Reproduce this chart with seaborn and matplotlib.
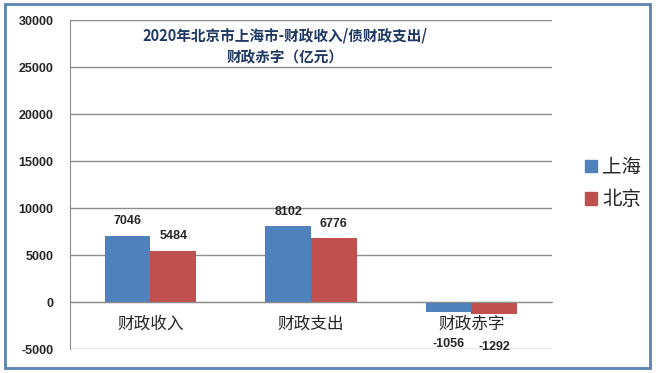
import numpy as np
import pandas as pd
import matplotlib
matplotlib.use("Agg")
import matplotlib.pyplot as plt
import matplotlib.patches as mpatches
import seaborn as sns

# data
categories = ['财政收入', '财政支出', '财政赤字']
shanghai = [7046, 8102, -1056]
beijing = [5484, 6776, -1292]
cities = ['上海', '北京']
y_ticks = [-5000, 0, 5000, 10000, 15000, 20000, 25000, 30000]

df = pd.DataFrame({
    'cat': categories * 2,
    'city': [cities[0]] * 3 + [cities[1]] * 3,
    'value': shanghai + beijing,
})

sns.set_style('white')
plt.rcParams['font.family'] = ['Noto Sans CJK SC', 'DejaVu Sans']

fig = plt.figure(figsize=(6.56, 3.73), dpi=100)
ax = fig.add_axes([0.107, 0.0643, 0.734, 0.8817])

palette = {'上海': '#4F81BD', '北京': '#C0504D'}
sns.barplot(data=df, x='cat', y='value', hue='city', palette=palette,
            width=0.57, saturation=1, ax=ax, legend=False, order=categories,
            linewidth=0, edgecolor='none')

ax.set_ylim(-5000, 30000)
ax.set_xlim(-0.5, 2.5)
ax.set_yticks(y_ticks)
ax.set_yticklabels([str(t) for t in y_ticks], fontsize=9, fontweight='bold',
                   family=['Liberation Sans', 'DejaVu Sans'])
ax.yaxis.grid(True, color='#8C8C8C', lw=1)
ax.set_axisbelow(True)
ax.tick_params(axis='y', length=4, color='#8C8C8C', pad=8)
ax.set_xlabel('')
ax.set_ylabel('')

# x axis at zero
for s in ['top', 'right']:
    ax.spines[s].set_visible(False)
ax.spines['left'].set_color('#8C8C8C')
ax.spines['bottom'].set_position(('data', 0))
ax.spines['bottom'].set_color('#8C8C8C')
ax.set_xticks([0, 1, 2])
ax.set_xticklabels(categories, fontsize=12)
ax.set_xticks([-0.5, 0.5, 1.5, 2.5], minor=True)
ax.tick_params(axis='x', which='major', length=0, pad=10)
ax.tick_params(axis='x', which='minor', length=4, color='#8C8C8C')

# value labels
for cont in ax.containers:
    for p in cont:
        v = p.get_height()
        x = p.get_x() + p.get_width() / 2
        if v >= 0:
            ax.annotate(f'{int(round(v))}', (x, v), xytext=(0, 6), textcoords='offset points',
                        ha='center', va='bottom', fontsize=9, fontweight='bold',
                        family=['Liberation Sans', 'DejaVu Sans'])
        else:
            ax.annotate(f'{int(round(v))}', (x, v), xytext=(0, -19), textcoords='offset points',
                        ha='center', va='top', fontsize=9, fontweight='bold',
                        family=['Liberation Sans', 'DejaVu Sans'])

# title
fig.text(0.434, 0.875, '2020年北京市上海市-财政收入/债财政支出/\n财政赤字（亿元）',
         ha='center', va='center', multialignment='center', fontsize=10.5,
         fontweight='bold', color='#1F3864', linespacing=1.45)

# legend
handles = [mpatches.Patch(color=palette[c], label=c) for c in cities]
fig.legend(handles=handles, loc='center left', bbox_to_anchor=(0.865, 0.508),
           frameon=False, fontsize=14, handlelength=0.6, handleheight=0.6,
           handletextpad=0.3, labelspacing=0.6)

# border
fig.patches.append(mpatches.Rectangle((0.007, 0.013), 0.984, 0.975, transform=fig.transFigure,
                                      fill=False, edgecolor='#5B83B4', lw=2))

fig.savefig('out.png', dpi=100)
